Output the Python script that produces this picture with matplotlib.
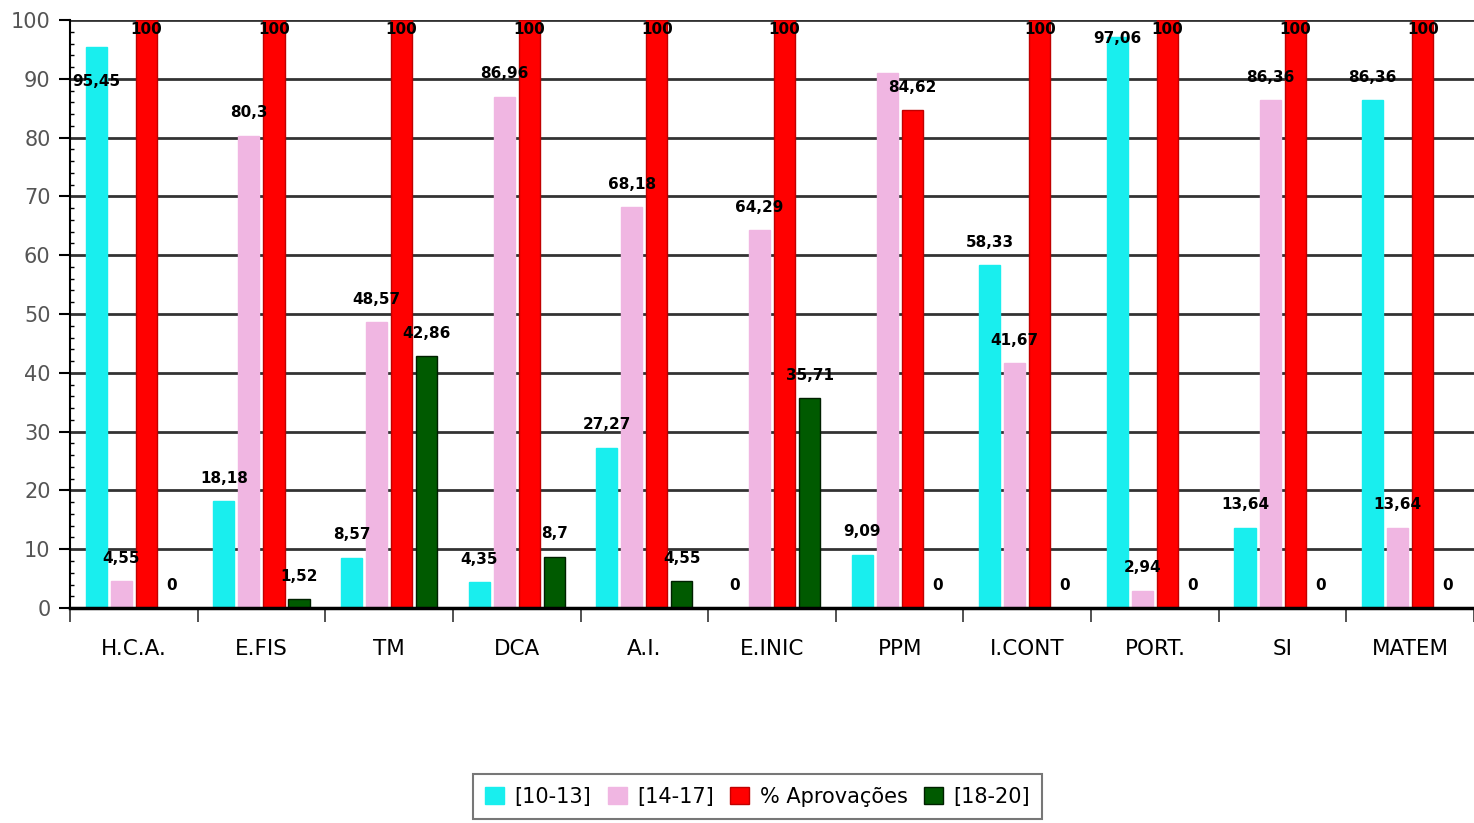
import numpy as np
import matplotlib
matplotlib.use("Agg")
import matplotlib.pyplot as plt
from matplotlib.ticker import MultipleLocator

# dados
disciplinas = ["H.C.A.", "E.FIS", "TM", "DCA", "A.I.", "E.INIC", "PPM", "I.CONT", "PORT.", "SI", "MATEM"]
serie_10_13 = [95.45, 18.18, 8.57, 4.35, 27.27, 0, 9.09, 58.33, 97.06, 13.64, 86.36]
serie_14_17 = [4.55, 80.3, 48.57, 86.96, 68.18, 64.29, 90.91, 41.67, 2.94, 86.36, 13.64]
aprovacoes = [100, 100, 100, 100, 100, 100, 84.62, 100, 100, 100, 100]
serie_18_20 = [0, 1.52, 42.86, 8.7, 4.55, 35.71, 0, 0, 0, 0, 0]
nomes = ["[10-13]", "[14-17]", "% Aprovações", "[18-20]"]

cores = ["#19EEEE", "#F0B6E2", "#FF0000", "#005A00"]
bordas = ["#19EEEE", "#F0B6E2", "#C00000", "#002000"]

# rotulos que o grafico original desloca ou esconde: (serie, indice) -> y
ajustes = {(0, 0): 89.5, (0, 8): 96.8, (1, 6): None}

fig = plt.figure(figsize=(14.74, 8.23), dpi=100)
ax = fig.add_axes([0.0475, 0.2612, 0.9525, 0.7145])

x = np.arange(len(disciplinas))
largura = 0.165
passo = 0.196
series = [serie_10_13, serie_14_17, aprovacoes, serie_18_20]

for i, (vals, cor, borda, nome) in enumerate(zip(series, cores, bordas, nomes)):
    pos = x + (i - 1.5) * passo
    ax.bar(pos, vals, largura, color=cor, edgecolor=borda, linewidth=1, label=nome, zorder=3)
    for j, (p, v) in enumerate(zip(pos, vals)):
        if (i, j) in ajustes:
            yv = ajustes[(i, j)]
            if yv is None:
                continue
        elif v >= 99:
            yv = 98.3
        else:
            yv = v + 3.9
        txt = f"{v:g}".replace(".", ",")
        ax.text(p, yv, txt, ha="center", va="center", fontsize=11, fontweight="bold",
                color="black", zorder=5)

ax.set_xlim(-0.5, len(disciplinas) - 0.5)
ax.set_ylim(0, 100)
ax.yaxis.set_major_locator(MultipleLocator(10))
ax.yaxis.set_minor_locator(MultipleLocator(2))
ax.grid(axis="y", which="major", color="#333333", linewidth=2, zorder=1)

ax.set_xticks(x)
ax.set_xticklabels(disciplinas, fontsize=15.5, color="#000000")
ax.set_xticks(np.arange(-0.5, len(disciplinas)), minor=True)
ax.tick_params(axis="x", which="major", length=0, pad=22)
ax.tick_params(axis="x", which="minor", length=10, width=1.2, color="#333333")
ax.tick_params(axis="y", which="major", length=8, width=1.5, labelsize=15, labelcolor="#555555", pad=6)
ax.tick_params(axis="y", which="minor", length=3, width=1, direction="in")

for s in ["top", "right"]:
    ax.spines[s].set_visible(False)
ax.spines["left"].set_linewidth(1.5)
ax.spines["bottom"].set_linewidth(2.5)
ax.spines["bottom"].set_zorder(4)

leg = fig.legend(loc="center", bbox_to_anchor=(0.514, 0.032), ncol=4, fontsize=15,
                 frameon=True, fancybox=False, edgecolor="#555555", handlelength=0.9,
                 handleheight=0.9, handletextpad=0.5, columnspacing=0.8, borderpad=0.6)
leg.get_frame().set_linewidth(1.5)

fig.savefig("out.png", dpi=100)
